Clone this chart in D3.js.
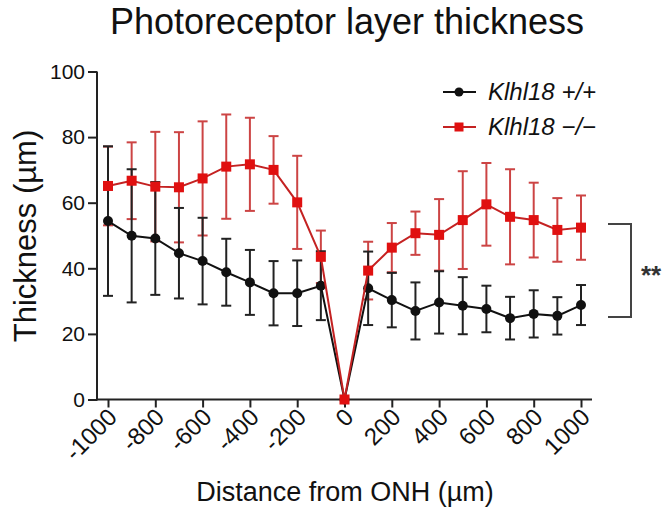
<!DOCTYPE html>
<html>
<head>
<meta charset="UTF-8">
<script src="https://d3js.org/d3.v7.min.js"></script>
<style>
  body { margin: 0; background: #fff; }
  svg { font-family: Arial, "Liberation Sans", sans-serif; }
</style>
</head>
<body>
<div id="chart"></div>
<script>
// positions from ONH (µm)
const distances = [-1000, -900, -800, -700, -600, -500, -400, -300, -200, -100, 0,
                   100, 200, 300, 400, 500, 600, 700, 800, 900, 1000];
const tickValues = [-1000, -800, -600, -400, -200, 0, 200, 400, 600, 800, 1000];
const yTicks = [0, 20, 40, 60, 80, 100];

// Klhl18 +/+
const wtMean = [54.4, 49.9, 49.1, 44.6, 42.2, 38.8, 35.7, 32.4, 32.4, 34.7, 0,
                33.9, 30.3, 27.0, 29.6, 28.6, 27.6, 24.8, 26.1, 25.5, 28.8];
const wtSd   = [22.8, 20.3, 17.2, 13.8, 13.2, 10.2, 9.9, 9.8, 10.0, 10.5, 0,
                11.2, 8.3, 8.7, 9.5, 8.7, 7.1, 6.5, 7.2, 5.7, 6.1];
// Klhl18 -/-
const koMean = [65.1, 66.7, 64.9, 64.7, 67.4, 71.0, 71.7, 70.0, 60.1, 43.5, 0,
                39.3, 46.3, 50.7, 50.2, 54.7, 59.5, 55.7, 54.7, 51.7, 52.4];
const koSd   = [12.0, 11.7, 16.7, 16.8, 17.4, 15.9, 14.2, 10.3, 14.2, 8.0, 0,
                8.8, 7.5, 6.6, 10.9, 14.9, 12.6, 14.5, 11.4, 9.7, 9.8];

const W = 666, H = 508;
const svg = d3.select("#chart").append("svg")
    .attr("width", W).attr("height", H);

const x = d3.scaleLinear().domain([-1000, 1000]).range([108, 581]);
const y = d3.scaleLinear().domain([0, 100]).range([399.5, 71.5]);

// title
svg.append("text").attr("x", 347).attr("y", 34)
    .attr("text-anchor", "middle").attr("font-size", 36).attr("fill", "#111")
    .text("Photoreceptor layer thickness");

// y axis
const yAxis = svg.append("g").attr("transform", "translate(97,0)")
    .call(d3.axisLeft(y).tickValues(yTicks).tickSize(9).tickSizeOuter(0).tickPadding(3));
yAxis.select(".domain").remove();
yAxis.selectAll(".tick line").attr("stroke", "#222").attr("stroke-width", 2);
yAxis.selectAll(".tick text").attr("font-size", 21).attr("fill", "#111");
svg.append("line").attr("x1", 97).attr("x2", 97).attr("y1", y(100)).attr("y2", 400.5)
    .attr("stroke", "#222").attr("stroke-width", 2);

// x axis, labels rotated 45°
const xAxis = svg.append("g").attr("transform", "translate(0,399.5)")
    .call(d3.axisBottom(x).tickValues(tickValues).tickFormat(d => String(d))
      .tickSize(8).tickSizeOuter(0));
xAxis.select(".domain").remove();
xAxis.selectAll(".tick line").attr("stroke", "#222").attr("stroke-width", 2);
xAxis.selectAll(".tick text")
    .attr("font-size", 24).attr("fill", "#111")
    .attr("text-anchor", "end")
    .attr("x", 0).attr("y", 0).attr("dy", 0)
    .attr("transform", "translate(10,19) rotate(-45)");
svg.append("line").attr("x1", 96).attr("x2", 592).attr("y1", 399.5).attr("y2", 399.5)
    .attr("stroke", "#222").attr("stroke-width", 2);

// axis titles
svg.append("text").attr("x", 345).attr("y", 501)
    .attr("text-anchor", "middle").attr("font-size", 27).attr("fill", "#111")
    .text("Distance from ONH (µm)");
svg.append("text").attr("transform", "translate(36,236) rotate(-90)")
    .attr("text-anchor", "middle").attr("font-size", 31).attr("fill", "#111")
    .text("Thickness (µm)");

function drawErrors(mean, sd, color) {
  const g = svg.append("g");
  const cap = 5;
  distances.forEach((d, i) => {
    if (sd[i] === 0) return;
    const cx = x(d);
    g.append("line").attr("x1", cx).attr("x2", cx)
      .attr("y1", y(mean[i] + sd[i])).attr("y2", y(mean[i] - sd[i]))
      .attr("stroke", color).attr("stroke-width", 2);
    [mean[i] + sd[i], mean[i] - sd[i]].forEach(v => {
      g.append("line").attr("x1", cx - cap).attr("x2", cx + cap)
        .attr("y1", y(v)).attr("y2", y(v))
        .attr("stroke", color).attr("stroke-width", 2);
    });
  });
}

function drawLine(mean, lineColor, markColor, marker) {
  const pts = distances.map((d, i) => ({ d, m: mean[i] }));
  const g = svg.append("g");
  g.append("path").datum(pts)
    .attr("d", d3.line().x(p => x(p.d)).y(p => y(p.m)))
    .attr("fill", "none").attr("stroke", lineColor).attr("stroke-width", 2);
  if (marker === "circle") {
    g.selectAll("circle").data(pts).join("circle")
      .attr("cx", p => x(p.d)).attr("cy", p => y(p.m)).attr("r", 5)
      .attr("fill", markColor);
  } else {
    g.selectAll("rect").data(pts).join("rect")
      .attr("x", p => x(p.d) - 5).attr("y", p => y(p.m) - 5)
      .attr("width", 10).attr("height", 10).attr("fill", markColor);
  }
}

drawErrors(koMean, koSd, "#cc4444");
drawErrors(wtMean, wtSd, "#222");
drawLine(wtMean, "#111", "#111", "circle");
drawLine(koMean, "#c42222", "#e01010", "square");

// legend
const legend = [
  { label: "Klhl18 +/+", color: "#111", fill: "#111", marker: "circle", y: 92 },
  { label: "Klhl18 \u2212/\u2212", color: "#c42222", fill: "#e01010", marker: "square", y: 127 }
];
legend.forEach(l => {
  svg.append("line").attr("x1", 443).attr("x2", 476).attr("y1", l.y).attr("y2", l.y)
    .attr("stroke", l.color).attr("stroke-width", 2);
  if (l.marker === "circle") {
    svg.append("circle").attr("cx", 459).attr("cy", l.y).attr("r", 4.5).attr("fill", l.fill);
  } else {
    svg.append("rect").attr("x", 454.5).attr("y", l.y - 4.5).attr("width", 9).attr("height", 9)
      .attr("fill", l.fill);
  }
  svg.append("text").attr("x", 488).attr("y", l.y + 8)
    .attr("font-size", 24).attr("font-style", "italic").attr("fill", "#111")
    .text(l.label);
});

// significance bracket
svg.append("path")
  .attr("d", "M608,224 H631 V317 H608")
  .attr("fill", "none").attr("stroke", "#444").attr("stroke-width", 2);
svg.append("text").attr("x", 651).attr("y", 284)
  .attr("text-anchor", "middle").attr("font-size", 26).attr("font-weight", "bold")
  .attr("fill", "#333").text("**");
</script>
</body>
</html>
